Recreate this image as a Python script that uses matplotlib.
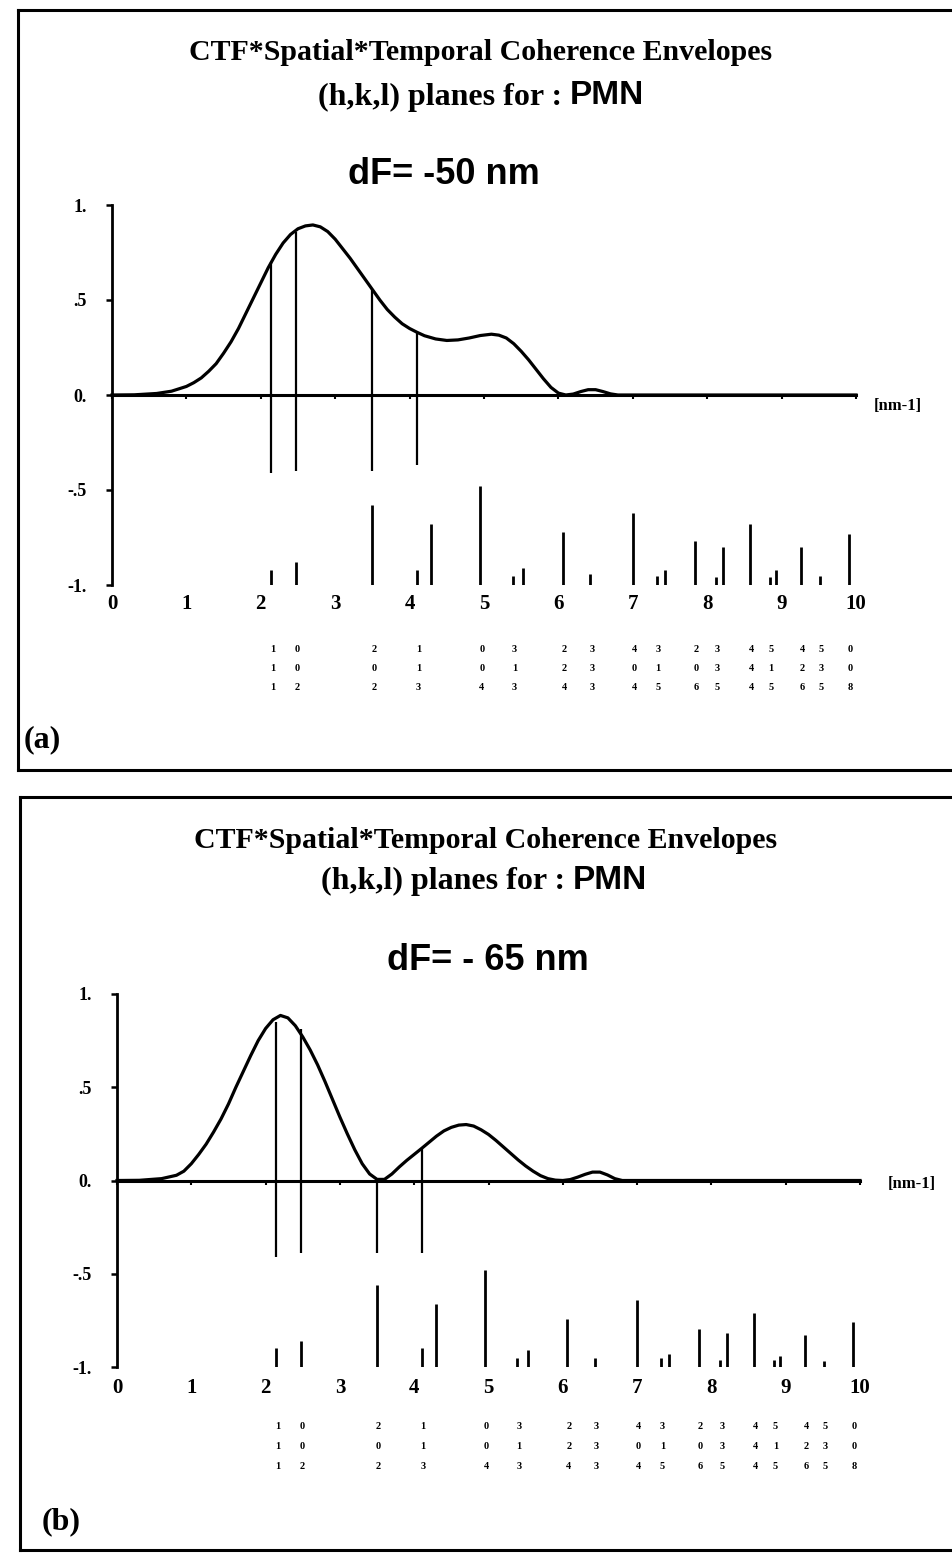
import matplotlib
matplotlib.use("Agg")
import matplotlib.pyplot as plt
from matplotlib.lines import Line2D

W, H = 953, 1554

# ---------------- data ----------------
# CTF*envelope curve, panel (a) dF=-50 nm
curve_a_x = [0.0, 0.3, 0.6, 0.8, 1.0, 1.1, 1.2, 1.3, 1.4, 1.5, 1.6, 1.7, 1.8, 1.9, 2.0,
             2.1, 2.2, 2.3, 2.4, 2.5, 2.6, 2.7, 2.8, 2.9, 3.0, 3.1, 3.2, 3.3, 3.4, 3.5,
             3.6, 3.7, 3.8, 3.9, 4.0, 4.1, 4.2, 4.35, 4.5, 4.65, 4.8, 4.95, 5.1, 5.2, 5.3,
             5.4, 5.5, 5.6, 5.7, 5.8, 5.9, 6.0, 6.1, 6.2, 6.3, 6.4, 6.5, 6.6, 6.7, 6.8, 10.0]
curve_a_y = [0.0, 0.001, 0.008, 0.02, 0.045, 0.065, 0.09, 0.125, 0.165, 0.22, 0.28, 0.35, 0.43, 0.51, 0.59,
             0.67, 0.74, 0.80, 0.845, 0.875, 0.89, 0.895, 0.885, 0.86, 0.82, 0.77, 0.72, 0.665, 0.61, 0.555,
             0.50, 0.45, 0.41, 0.375, 0.35, 0.33, 0.312, 0.295, 0.287, 0.29, 0.30, 0.313, 0.32, 0.315, 0.30,
             0.27, 0.23, 0.185, 0.135, 0.085, 0.04, 0.01, 0.0, 0.005, 0.018, 0.028, 0.028, 0.018, 0.006, 0.0, 0.0]

# CTF*envelope curve, panel (b) dF=-65 nm
curve_b_x = [0.0, 0.3, 0.6, 0.8, 0.9, 1.0, 1.1, 1.2, 1.3, 1.4, 1.5, 1.6, 1.7, 1.8, 1.9,
             2.0, 2.1, 2.2, 2.3, 2.4, 2.5, 2.6, 2.7, 2.8, 2.9, 3.0, 3.1, 3.2, 3.3, 3.4,
             3.5, 3.6, 3.7, 3.8, 3.9, 4.0, 4.1, 4.2, 4.3, 4.4, 4.5, 4.6, 4.7, 4.8, 4.9,
             5.0, 5.1, 5.2, 5.3, 5.4, 5.5, 5.6, 5.7, 5.8, 5.9, 6.0, 6.1, 6.2, 6.3, 6.4,
             6.5, 6.6, 6.7, 6.8, 10.0]
curve_b_y = [0.0, 0.001, 0.01, 0.028, 0.05, 0.09, 0.14, 0.195, 0.26, 0.33, 0.41, 0.50, 0.585, 0.67, 0.75,
             0.815, 0.862, 0.885, 0.872, 0.83, 0.77, 0.70, 0.62, 0.53, 0.435, 0.34, 0.25, 0.165, 0.09, 0.035,
             0.006, 0.006, 0.035, 0.073, 0.108, 0.14, 0.172, 0.205, 0.238, 0.266, 0.285, 0.297, 0.30, 0.292, 0.272,
             0.247, 0.215, 0.18, 0.145, 0.11, 0.078, 0.05, 0.026, 0.01, 0.002, 0.0, 0.005, 0.018, 0.033, 0.045,
             0.045, 0.03, 0.01, 0.0, 0.0]

# connecting lines (curve value at first reflections down to -0.4)
conn_x = [2.14, 2.475, 3.50, 4.10]
conn_a_top = [0.70, 0.86, 0.56, 0.33]
conn_a_bot = [-0.41, -0.40, -0.40, -0.37]
conn_b_top = [0.85, 0.81, 0.01, 0.17]
conn_b_bot = [-0.41, -0.39, -0.39, -0.39]

# reflection positions [nm-1] and structure-factor bars (drawn from -1)
refl_x = [2.14, 2.475, 3.50, 4.10, 4.29, 4.95, 5.39, 5.53, 6.06, 6.43, 7.00,
          7.32, 7.43, 7.83, 8.12, 8.21, 8.57, 8.84, 8.92, 9.26, 9.51, 9.90]
refl_a = [-0.92, -0.88, -0.58, -0.92, -0.68, -0.48, -0.95, -0.91, -0.72, -0.94, -0.62,
          -0.95, -0.92, -0.77, -0.96, -0.80, -0.68, -0.96, -0.92, -0.80, -0.95, -0.73]
refl_b = [-0.90, -0.86, -0.56, -0.90, -0.66, -0.48, -0.95, -0.91, -0.74, -0.95, -0.64,
          -0.95, -0.93, -0.795, -0.96, -0.82, -0.71, -0.96, -0.94, -0.83, -0.97, -0.76]

# (h,k,l) labels
hkl_x = [2.14, 2.475, 3.5, 4.10, 4.95, 5.39, 6.06, 6.43, 7.0, 7.32, 7.83, 8.12, 8.57, 8.84, 9.26, 9.51, 9.9]
h_lab = ["1", "0", "2", "1", "0", "3", "2", "3", "4", "3", "2", "3", "4", "5", "4", "5", "0"]
k_lab = ["1", "0", "0", "1", "0", "1", "2", "3", "0", "1", "0", "3", "4", "1", "2", "3", "0"]
l_lab = ["1", "2", "2", "3", "4", "3", "4", "3", "4", "5", "6", "5", "4", "5", "6", "5", "8"]

xticks = list(range(0, 11))
xtick_labels = [str(t) for t in xticks]
yticks = [-1, -0.5, 0, 0.5, 1]
ytick_labels = ["-1.", "-.5", "0.", ".5", "1."]

title1 = "CTF*Spatial*Temporal Coherence Envelopes"
title2 = "(h,k,l) planes for :"
title2b = "PMN"
defocus = ["dF= -50 nm", "dF= - 65 nm"]
panel_tags = ["(a)", "(b)"]

SERIF = ["Liberation Serif", "DejaVu Serif"]
SANS = ["Liberation Sans", "DejaVu Sans"]

fig = plt.figure(figsize=(W / 100, H / 100), dpi=100)
fig.patch.set_facecolor("white")


def fx(px):
    return px / W


def fy(py):
    return 1 - py / H


def hline(x0, x1, y, lw=2.2):
    fig.add_artist(Line2D([fx(x0), fx(x1)], [fy(y), fy(y)], color="black", lw=lw,
                          transform=fig.transFigure))


def vline(x, y0, y1, lw=2.2):
    fig.add_artist(Line2D([fx(x), fx(x)], [fy(y0), fy(y1)], color="black", lw=lw,
                          transform=fig.transFigure))


panels = [
    dict(frame=(18, 10, 770), ax=(112, 856, 205, 585), t1=(481, 53), t2y=97, t2split=562,
         dfx=444, dfy=174, tag=(42, 740), curve=(curve_a_x, curve_a_y),
         conn=(conn_a_top, conn_a_bot), refl=refl_a, lab_y=-1.10,
         hkl_y=[-1.337, -1.437, -1.542], unit=(10.56, -0.06), df=defocus[0], tagtxt=panel_tags[0]),
    dict(frame=(20, 797, 1550), ax=(117, 860, 994, 1367), t1=(486, 840), t2y=881, t2split=565,
         dfx=488, dfy=960, tag=(61, 1522), curve=(curve_b_x, curve_b_y),
         conn=(conn_b_top, conn_b_bot), refl=refl_b, lab_y=-1.11,
         hkl_y=[-1.317, -1.425, -1.532], unit=(10.7, -0.02), df=defocus[1], tagtxt=panel_tags[1]),
]

for p in panels:
    left, top, bottom = p["frame"]
    hline(left, W, top)
    hline(left, W, bottom)
    vline(left, top, bottom)

    x0, x1, y1, ym1 = p["ax"]
    ax = fig.add_axes([fx(x0), fy(ym1), (x1 - x0) / W, (ym1 - y1) / H])
    ax.set_xlim(0, 10)
    ax.set_ylim(-1, 1)
    ax.patch.set_alpha(0)
    for s in ["top", "right"]:
        ax.spines[s].set_visible(False)
    ax.spines["bottom"].set_position(("data", 0))
    ax.spines["left"].set_position(("data", 0))
    ax.spines["bottom"].set_linewidth(2.2)
    ax.spines["left"].set_linewidth(2.0)

    ax.set_yticks(yticks)
    ax.set_yticklabels(ytick_labels, fontfamily=SERIF, fontweight="bold", fontsize=13)
    ax.tick_params(axis="y", direction="out", length=4, width=1.8, pad=14)
    ax.set_xticks(xticks)
    ax.set_xticklabels([])
    ax.tick_params(axis="x", direction="out", length=3, width=1.5)
    for t, s in zip(xticks, xtick_labels):
        ax.text(t, p["lab_y"], s, ha="center", va="center", fontfamily=SERIF,
                fontweight="bold", fontsize=15, clip_on=False)

    cx, cy = p["curve"]
    ax.plot(cx, cy, color="black", lw=2.3, solid_joinstyle="round", clip_on=False)
    ctop, cbot = p["conn"]
    ax.vlines(conn_x, cbot, ctop, color="black", lw=1.6)
    ax.vlines(refl_x, -1, p["refl"], color="black", lw=2.0)

    for row, labs in zip(p["hkl_y"], [h_lab, k_lab, l_lab]):
        for xx, s in zip(hkl_x, labs):
            ax.text(xx + 0.02, row, s, ha="center", va="center", fontfamily=SERIF,
                    fontweight="bold", fontsize=7.5, clip_on=False)

    ux, uy = p["unit"]
    ax.text(ux, uy, "[nm-1]", ha="center", va="center", fontfamily=SERIF,
            fontweight="bold", fontsize=12, clip_on=False)

    t1x, t1y = p["t1"]
    fig.text(fx(t1x), fy(t1y), title1, ha="center", va="center",
             fontfamily=SERIF, fontweight="bold", fontsize=21.5)
    fig.text(fx(p["t2split"]), fy(p["t2y"]), title2, ha="right", va="center",
             fontfamily=SERIF, fontweight="bold", fontsize=23)
    fig.text(fx(p["t2split"] + 8), fy(p["t2y"] - 1), title2b, ha="left", va="center",
             fontfamily=SANS, fontweight="bold", fontsize=24)
    fig.text(fx(p["dfx"]), fy(p["dfy"]), p["df"], ha="center", va="center",
             fontfamily=SANS, fontweight="bold", fontsize=26)
    tx, ty = p["tag"]
    fig.text(fx(tx), fy(ty), p["tagtxt"], ha="center", va="center",
             fontfamily=SERIF, fontweight="bold", fontsize=23)

fig.savefig("out.png", dpi=100, facecolor="white")
